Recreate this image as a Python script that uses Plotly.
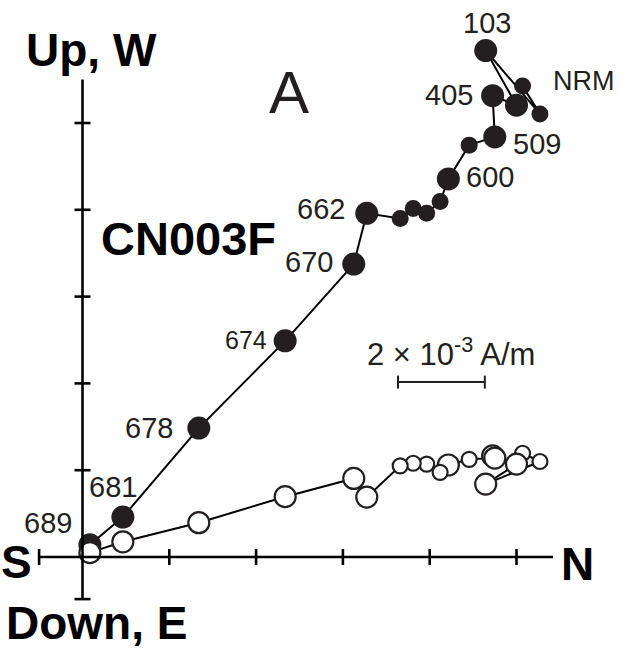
import plotly.graph_objects as go

# ---- data (units of 1e-3 A/m), demagnetization sequence order ----
steps = ["NRM", "s2", "103", "s4", "405", "509", "s7", "600", "s9", "s10",
         "s11", "s12", "662", "670", "674", "678", "681", "689"]
north = [10.14, 10.54, 9.29, 10.00, 9.45, 9.50, 8.91, 8.43, 8.24, 7.93,
         7.62, 7.32, 6.55, 6.25, 4.67, 2.68, 0.93, 0.17]
up = [10.85, 10.21, 11.67, 10.41, 10.63, 9.68, 9.49, 8.71, 8.19, 7.92,
      8.03, 7.80, 7.92, 6.75, 4.98, 2.97, 0.92, 0.28]
west = [2.39, 2.20, 1.68, 2.14, 2.33, 2.28, 2.25, 2.12, 1.95, 2.14,
        2.16, 2.10, 1.38, 1.81, 1.39, 0.79, 0.35, 0.10]
big_step = [False, False, True, True, True, True, False, True, False, False,
            False, False, True, True, True, True, True, True]
shown_labels = {"NRM": (61, 5, 27), "103": (1, 28, 29), "405": (-44, 1, 29),
                "509": (42, -7, 29), "600": (42, 2, 29), "662": (-46, 4, 29),
                "670": (-45, 2, 29), "674": (-39, 1, 25), "678": (-50, 0, 29),
                "681": (-10, 30, 29), "689": (-42, 22, 29)}
tick_vals = [2, 4, 6, 8, 10]
scale_len = 2  # 2 x 10^-3 A/m

# ---- layout geometry (page pixels) ----
W, H = 622, 652
PX = 43.4             # pixels per unit
X0, Y0 = 82.5, 557.0  # origin in pixels
xr = [-X0 / PX, (W - X0) / PX]
yr = [(Y0 - H) / PX, Y0 / PX]

FONT = "Liberation Sans, Arial, Helvetica, sans-serif"
INK = "#231f20"

fill_sizes = [23 if b else 17 for b in big_step]
open_sizes = [21 if b else 15 for b in big_step]

fig = go.Figure()
fig.add_trace(go.Scatter(
    x=north, y=up, mode="lines+markers",
    line=dict(color="black", width=2),
    marker=dict(size=fill_sizes, color=INK, opacity=1, line=dict(width=0)),
    hoverinfo="skip", showlegend=False))
fig.add_trace(go.Scatter(
    x=north, y=west, mode="lines+markers",
    line=dict(color="black", width=2),
    marker=dict(size=open_sizes, color="white", opacity=1,
                line=dict(color=INK, width=2.2)),
    hoverinfo="skip", showlegend=False))

shapes = []
t = 8 / PX
axw = 2.6
# horizontal axis (N-S)
shapes.append(dict(type="line", x0=-1.0, x1=10.84, y0=0, y1=0, line=dict(color="black", width=axw)))
shapes.append(dict(type="line", x0=-1.0, x1=-1.0, y0=-t, y1=t, line=dict(color="black", width=axw)))
for v in tick_vals:
    shapes.append(dict(type="line", x0=v, x1=v, y0=-t, y1=t, line=dict(color="black", width=axw)))
# vertical axis (Up/Down)
shapes.append(dict(type="line", x0=0, x1=0, y0=-0.97, y1=11.0, line=dict(color="black", width=axw)))
shapes.append(dict(type="line", x0=-t, x1=t, y0=-0.97, y1=-0.97, line=dict(color="black", width=axw)))
for v in tick_vals:
    shapes.append(dict(type="line", x0=-t, x1=t, y0=v, y1=v, line=dict(color="black", width=axw)))
# scale bar
sb_x0, sb_y = 7.27, 4.03
shapes.append(dict(type="line", x0=sb_x0, x1=sb_x0 + scale_len, y0=sb_y, y1=sb_y, line=dict(color=INK, width=2)))
for xx in (sb_x0, sb_x0 + scale_len):
    shapes.append(dict(type="line", x0=xx, x1=xx, y0=sb_y - 0.15, y1=sb_y + 0.15, line=dict(color=INK, width=2)))

ann = []
for s, n, u in zip(steps, north, up):
    if s in shown_labels:
        dx, dy, fs = shown_labels[s]
        ann.append(dict(x=n, y=u, text=s, showarrow=False, xshift=dx, yshift=dy,
                        font=dict(family=FONT, size=fs, color=INK)))

def px_ann(text, px, py, size, bold=False, color="black"):
    return dict(x=(px - X0) / PX, y=(Y0 - py) / PX, text=f"<b>{text}</b>" if bold else text,
                showarrow=False, font=dict(family=FONT, size=size, color=color))

ann.append(px_ann("Up, W", 91, 50, 46, bold=True))
ann.append(px_ann("Down, E", 96, 623, 46, bold=True))
ann.append(px_ann("S", 16, 562, 46, bold=True))
ann.append(px_ann("N", 577, 564, 46, bold=True))
ann.append(px_ann("A", 289, 92, 60, color=INK))
ann.append(px_ann("CN003F", 188, 238, 47, bold=True))
ann.append(px_ann("2 \u00d7 10<sup>-3</sup> A/m", 451, 352, 31, color=INK))

fig.update_layout(
    width=W, height=H, autosize=False,
    margin=dict(l=0, r=0, t=0, b=0, pad=0),
    paper_bgcolor="white", plot_bgcolor="white",
    hovermode=False,
    xaxis=dict(range=xr, visible=False, fixedrange=True),
    yaxis=dict(range=yr, visible=False, fixedrange=True),
    shapes=shapes, annotations=ann, showlegend=False)

fig.write_html("out.html",
               config={"displayModeBar": False, "staticPlot": True},
               post_script="document.body.style.margin='0px';document.body.style.overflow='hidden';")
